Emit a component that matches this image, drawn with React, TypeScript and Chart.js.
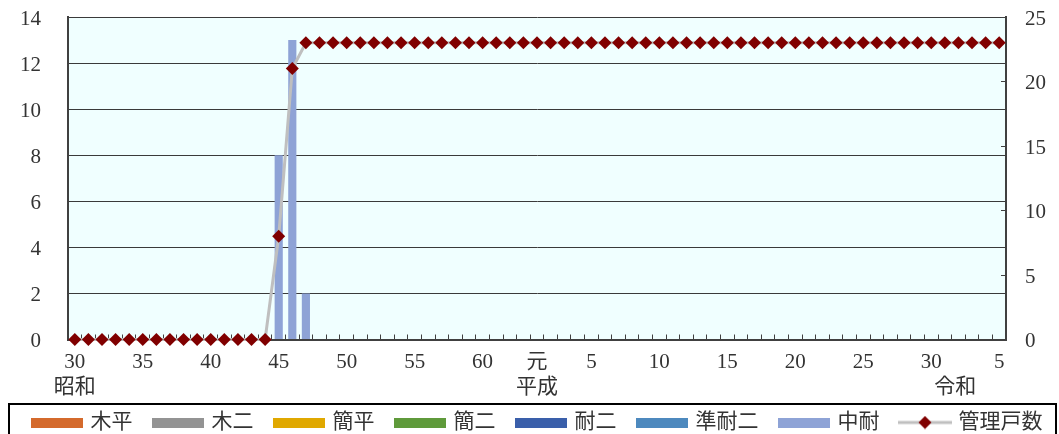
import { useEffect, useRef } from 'react';
import { Chart, registerables } from 'chart.js';

Chart.register(...registerables);

// 年度: 昭和30年 〜 令和5年
const categories = [
  '30', '31', '32', '33', '34', '35', '36', '37', '38', '39',
  '40', '41', '42', '43', '44', '45', '46', '47', '48', '49',
  '50', '51', '52', '53', '54', '55', '56', '57', '58', '59',
  '60', '61', '62', '63',
  '元', '2', '3', '4', '5', '6', '7', '8', '9', '10',
  '11', '12', '13', '14', '15', '16', '17', '18', '19', '20',
  '21', '22', '23', '24', '25', '26', '27', '28', '29', '30',
  '元', '2', '3', '4', '5',
];

// category indexes whose year number is printed under the axis
const xTickShown = [0, 5, 10, 15, 20, 25, 30, 34, 38, 43, 48, 53, 58, 63, 68];

// era captions on the second label row
const eraNames = [
  { index: 0, name: '昭和' },
  { index: 34, name: '平成' },
  { index: 64, name: '令和' },
];

// 建設戸数 by structure type (left axis)
const mokuhei: number[] = []; // 木平
const mokuni: number[] = []; // 木二
const kanhei: number[] = []; // 簡平
const kanni: number[] = []; // 簡二
const taini: number[] = []; // 耐二
const juntaini: number[] = []; // 準耐二
const chutai = [ // 中耐
  0, 0, 0, 0, 0, 0, 0, 0, 0, 0,
  0, 0, 0, 0, 0, 8, 13, 2, 0, 0,
  0, 0, 0, 0, 0, 0, 0, 0, 0, 0,
  0, 0, 0, 0, 0, 0, 0, 0, 0, 0,
  0, 0, 0, 0, 0, 0, 0, 0, 0, 0,
  0, 0, 0, 0, 0, 0, 0, 0, 0, 0,
  0, 0, 0, 0, 0, 0, 0, 0, 0,
];

// 管理戸数 (right axis)
const kanriKosu = [
  0, 0, 0, 0, 0, 0, 0, 0, 0, 0,
  0, 0, 0, 0, 0, 8, 21, 23, 23, 23,
  23, 23, 23, 23, 23, 23, 23, 23, 23, 23,
  23, 23, 23, 23, 23, 23, 23, 23, 23, 23,
  23, 23, 23, 23, 23, 23, 23, 23, 23, 23,
  23, 23, 23, 23, 23, 23, 23, 23, 23, 23,
  23, 23, 23, 23, 23, 23, 23, 23, 23,
];

const barSeries = [
  { label: '木平', data: mokuhei, color: '#D46A2C' },
  { label: '木二', data: mokuni, color: '#939393' },
  { label: '簡平', data: kanhei, color: '#E0A800' },
  { label: '簡二', data: kanni, color: '#5F9A3B' },
  { label: '耐二', data: taini, color: '#3A5FAA' },
  { label: '準耐二', data: juntaini, color: '#4D89BE' },
  { label: '中耐', data: chutai, color: '#8EA3D6' },
];

const lineLabel = '管理戸数';
const LINE_COLOR = '#BFBFBF';
const MARKER_COLOR = '#800000';

const FONT = '"Liberation Serif", "Noto Sans CJK JP", serif';
const TEXT = '#333333';
const AXIS = '#404040';

function barSwatch(color: string) {
  const c = document.createElement('canvas');
  c.width = 52;
  c.height = 10;
  const g = c.getContext('2d')!;
  g.fillStyle = color;
  g.fillRect(0, 0, 52, 10);
  return c;
}

function lineSwatch() {
  const c = document.createElement('canvas');
  c.width = 54;
  c.height = 14;
  const g = c.getContext('2d')!;
  g.strokeStyle = LINE_COLOR;
  g.lineWidth = 3;
  g.beginPath();
  g.moveTo(0, 7);
  g.lineTo(54, 7);
  g.stroke();
  g.fillStyle = MARKER_COLOR;
  g.beginPath();
  g.moveTo(27, 0.5);
  g.lineTo(33.5, 7);
  g.lineTo(27, 13.5);
  g.lineTo(20.5, 7);
  g.closePath();
  g.fill();
  return c;
}

const plotBackground = {
  id: 'plotBackground',
  beforeDraw(chart: any) {
    const { ctx, chartArea: a } = chart;
    ctx.save();
    ctx.fillStyle = '#F0FFFF';
    ctx.fillRect(a.left, a.top, a.right - a.left, a.bottom - a.top);
    ctx.restore();
  },
};

// lets the two-row year labels run a little into the space above the legend,
// and nudges the legend row slightly to the right
const layoutTweaks = {
  id: 'layoutTweaks',
  afterLayout(chart: any) {
    const x = chart.scales.x;
    if (x) x.bottom = x.bottom + 14;
    const lg = chart.legend;
    if (lg) {
      lg.left = lg.left + 8.75;
      lg.right = lg.right + 8.75;
    }
  },
};

const legendFrame = {
  id: 'legendFrame',
  afterDraw(chart: any) {
    const lg = chart.legend;
    if (!lg) return;
    const { ctx } = chart;
    ctx.save();
    ctx.strokeStyle = '#000000';
    ctx.lineWidth = 2;
    ctx.strokeRect(9, lg.top + 14.5, chart.width - 12, lg.height + 30);
    ctx.restore();
  },
};

export default function App() {
  const canvasRef = useRef<HTMLCanvasElement | null>(null);

  useEffect(() => {
    document.body.style.margin = '0';
    const canvas = canvasRef.current;
    if (!canvas) return;

    const swatches = [...barSeries.map((s) => barSwatch(s.color)), lineSwatch()];

    const datasets: any[] = barSeries.map((s) => ({
      type: 'bar',
      label: s.label,
      data: s.data,
      backgroundColor: s.color,
      borderWidth: 0,
      stack: 'kosu',
      yAxisID: 'y',
      categoryPercentage: 1,
      barPercentage: 0.6,
      order: 1,
    }));
    datasets.push({
      type: 'line',
      label: lineLabel,
      data: kanriKosu,
      yAxisID: 'y1',
      borderColor: LINE_COLOR,
      borderWidth: 3,
      tension: 0,
      pointStyle: 'rectRot',
      pointRadius: 6.5,
      pointHoverRadius: 6.5,
      pointBackgroundColor: MARKER_COLOR,
      pointBorderColor: MARKER_COLOR,
      pointBorderWidth: 0,
      clip: false,
      order: 0,
    });

    const tickFont = { family: FONT, size: 21, lineHeight: 1.17 };

    const chart = new Chart(canvas, {
      type: 'bar',
      data: { labels: categories, datasets },
      options: {
        animation: false,
        responsive: false,
        events: [],
        layout: { padding: { left: 0, top: 17, right: 0, bottom: 0 } },
        plugins: {
          tooltip: { enabled: false },
          legend: {
            position: 'bottom',
            align: 'center',
            labels: {
              usePointStyle: true,
              pointStyleWidth: 46,
              padding: 22.5,
              color: TEXT,
              font: { family: FONT, size: 21 },
              generateLabels: (c: any) =>
                c.data.datasets.map((ds: any, i: number) => ({
                  text: ds.label,
                  pointStyle: swatches[i],
                  datasetIndex: i,
                  hidden: false,
                  lineWidth: 0,
                  fillStyle: 'transparent',
                  strokeStyle: 'transparent',
                  fontColor: TEXT,
                })),
            },
          },
        },
        scales: {
          x: {
            type: 'category',
            stacked: true,
            offset: true,
            grid: {
              offset: true,
              drawOnChartArea: false,
              drawTicks: true,
              tickLength: -5,
              color: AXIS,
              lineWidth: 1,
            },
            border: { display: true, color: AXIS, width: 2 },
            ticks: {
              autoSkip: false,
              maxRotation: 0,
              minRotation: 0,
              padding: 16,
              color: TEXT,
              font: tickFont,
              callback: (_v: any, i: number) => {
                const num = xTickShown.includes(i) ? categories[i] : '';
                const era = eraNames.find((e) => e.index === i);
                if (!era) return num;
                // the last era caption sits between its first and last year
                return [num, i === 64 ? '\u3000' + era.name : era.name];
              },
            },
            afterFit: (scale: any) => {
              scale.height = 50;
            },
          },
          y: {
            type: 'linear',
            position: 'left',
            stacked: true,
            min: 0,
            max: 14,
            ticks: { stepSize: 2, padding: 27, labelOffset: 2, color: TEXT, font: tickFont },
            grid: { color: '#3A3A3A', lineWidth: 1, drawTicks: false },
            border: { display: true, color: AXIS, width: 2 },
            afterFit: (scale: any) => {
              scale.width = 68;
              scale.paddingTop = 0;
              scale.paddingBottom = 0;
            },
          },
          y1: {
            type: 'linear',
            position: 'right',
            min: 0,
            max: 25,
            ticks: { stepSize: 5, padding: 24, labelOffset: 2, color: TEXT, font: tickFont },
            grid: {
              drawOnChartArea: false,
              drawTicks: true,
              tickLength: -5,
              color: AXIS,
              lineWidth: 1,
            },
            border: { display: true, color: AXIS, width: 2 },
            afterFit: (scale: any) => {
              scale.width = 53;
              scale.paddingTop = 0;
              scale.paddingBottom = 0;
            },
          },
        },
      } as any,
      plugins: [plotBackground, layoutTweaks, legendFrame],
    });

    return () => chart.destroy();
  }, []);

  return (
    <div style={{ width: 1059, height: 434, overflow: 'hidden', background: '#FFFFFF' }}>
      <canvas ref={canvasRef} width={1059} height={443} style={{ display: 'block' }} />
    </div>
  );
}
